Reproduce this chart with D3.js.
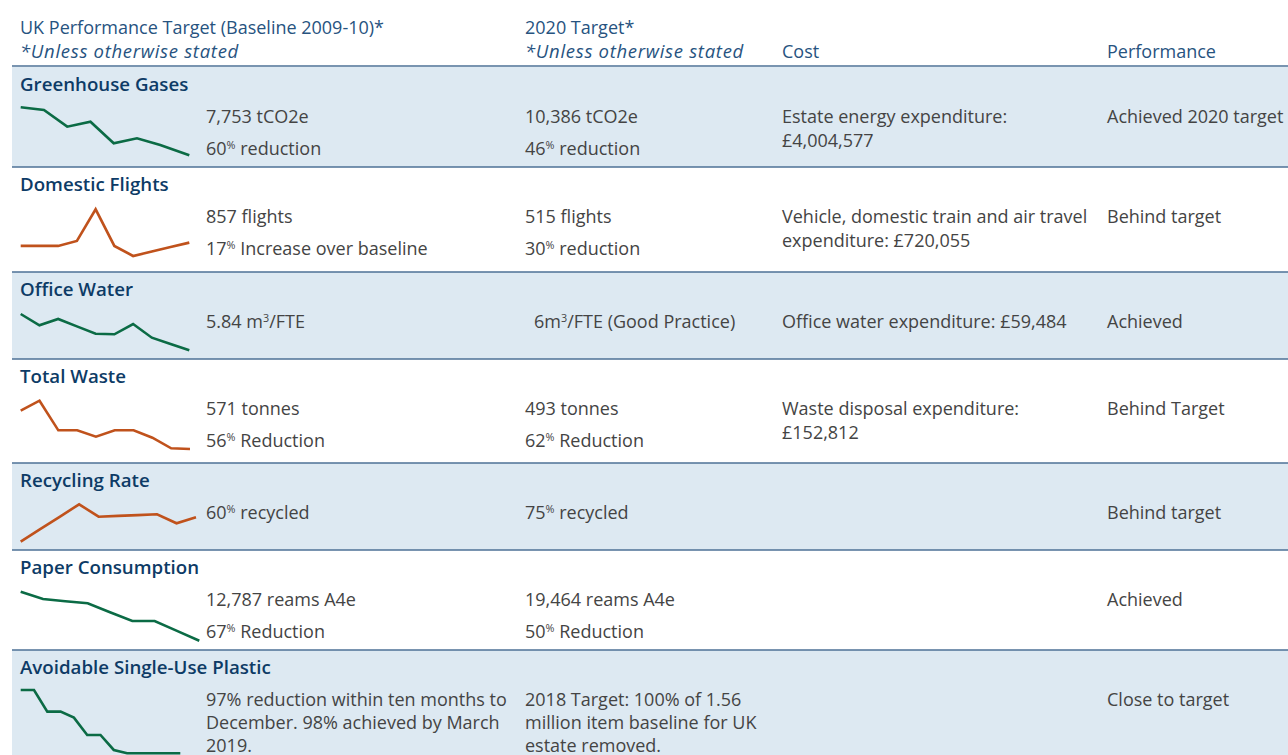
<!DOCTYPE html>
<html>
<head>
<meta charset="utf-8">
<script src="https://cdn.jsdelivr.net/npm/d3@7"></script>
<style>
  body { margin: 0; background: #fff; }
  svg text { font-family: "Open Sans", "Noto Sans", sans-serif; }
</style>
</head>
<body>
<svg id="chart"></svg>
<script>
// ---- table content ----
const rowTitles = ["Greenhouse Gases", "Domestic Flights", "Office Water", "Total Waste",
  "Recycling Rate", "Paper Consumption", "Avoidable Single-Use Plastic"];

// "^" marks the next character as superscript
const currentText = [
  ["7,753 tCO2e", "60^% reduction"],
  ["857 flights", "17^% Increase over baseline"],
  ["5.84 m^3/FTE"],
  ["571 tonnes", "56^% Reduction"],
  ["60^% recycled"],
  ["12,787 reams A4e", "67^% Reduction"],
  ["97% reduction within ten months to", "December. 98% achieved by March", "2019."]
];
const targetText = [
  ["10,386 tCO2e", "46^% reduction"],
  ["515 flights", "30^% reduction"],
  ["6m^3/FTE (Good Practice)"],
  ["493 tonnes", "62^% Reduction"],
  ["75^% recycled"],
  ["19,464 reams A4e", "50^% Reduction"],
  ["2018 Target: 100% of 1.56", "million item baseline for UK", "estate removed."]
];
const costText = [
  ["Estate energy expenditure:", "£4,004,577"],
  ["Vehicle, domestic train and air travel", "expenditure: £720,055"],
  ["Office water expenditure: £59,484"],
  ["Waste disposal expenditure:", "£152,812"],
  [], [], []
];
const performance = ["Achieved 2020 target", "Behind target", "Achieved", "Behind Target",
  "Behind target", "Achieved", "Close to target"];
const onTrack = [true, false, true, false, false, true, true];

// ---- sparkline series (index, baseline = 100, unless units noted) ----
const ghgValues = [100, 96.6, 75.8, 82, 55, 61.3, 52.9, 40];
const ghgPeriods = [0, 1, 2, 3, 4, 5, 6, 7.25];
const flightsValues = [100, 100, 100, 126, 289, 100, 48, 71, 94, 117];
const waterValues = [9.47, 8.34, 8.97, 8.23, 7.50, 7.44, 8.47, 7.10, 6.47, 5.84]; // m3/FTE
const wasteValues = [100, 114.6, 71.3, 71.3, 62, 71.3, 71.3, 60.5, 45, 44];
const recyclingValues = [35.6, 48.1, 60.5, 73, 60.6, 61.4, 62.2, 63, 54, 60]; // % recycled
const paperValues = [100, 90, 87, 84.1, 72, 59.9, 59.9, 46.5, 33];
const plasticValues = [100, 100, 66.8, 66.8, 57.6, 31.1, 31.1, 8.1, 3, 3, 3, 3, 3];

const sparkSeries = [ghgValues, flightsValues, waterValues, wasteValues,
  recyclingValues, paperValues, plasticValues];
const sparkPeriods = [ghgPeriods, null, null, null, null, null, null];

// ---- layout ----
const W = 1288, H = 755;
const rowTops = [67, 167, 272, 359, 463, 550, 650];
const rowBottomLast = 790;
const colX = {spark: 20.7, current: 206, target: 525, cost: 782, perf: 1107};
// sparkline extent per row: right end x, top/bottom offset from row top
const sparkLayout = [
  {xEnd: 189.3, top: 40.3, bottom: 88.3},
  {xEnd: 189.3, top: 42.3, bottom: 89},
  {xEnd: 189.3, top: 42, bottom: 78.3},
  {xEnd: 190, top: 41.7, bottom: 90},
  {xEnd: 196, top: 41.3, bottom: 78.7},
  {xEnd: 199.3, top: 41.7, bottom: 90.7},
  {xEnd: 180.3, top: 40, bottom: 103.3}
];

const colors = {
  shade: "#dde9f2",
  rule: "#4d7096",
  title: "#0d3b66",
  head: "#27537f",
  body: "#444444",
  good: "#0b6b45",
  bad: "#c0521c"
};

const svg = d3.select("#chart").attr("width", W).attr("height", H);
svg.append("rect").attr("width", W).attr("height", H).attr("fill", "#fff");

// row backgrounds
const rowBottoms = rowTops.slice(1).concat([rowBottomLast]);
svg.selectAll("rect.row")
  .data(rowTops)
  .join("rect")
  .attr("class", "row")
  .attr("x", 12)
  .attr("y", d => d)
  .attr("width", W - 12)
  .attr("height", (d, i) => rowBottoms[i] - d)
  .attr("fill", (d, i) => i % 2 === 0 ? colors.shade : "#fff");

// rules
const rules = [66].concat(rowTops.slice(1));
svg.selectAll("line.rule")
  .data(rules)
  .join("line")
  .attr("class", "rule")
  .attr("x1", 12).attr("x2", W)
  .attr("y1", d => d).attr("y2", d => d)
  .attr("stroke", colors.rule)
  .attr("stroke-width", 1.5);

// helper for text with superscripts
function writeLine(g, str, x, y, opts) {
  const t = g.append("text")
    .attr("x", x).attr("y", y)
    .attr("fill", opts.fill)
    .attr("font-size", opts.size)
    .attr("font-weight", opts.weight || 400)
    .attr("letter-spacing", opts.spacing || 0)
    .attr("font-style", opts.italic ? "italic" : "normal");
  const parts = str.split("^");
  t.append("tspan").text(parts[0]);
  parts.slice(1).forEach(p => {
    t.append("tspan").attr("font-size", opts.size * 0.6).attr("dy", -6.5).text(p[0]);
    t.append("tspan").attr("dy", 6.5).text(p.slice(1));
  });
  return t;
}

// header
const head = svg.append("g");
const hs = {fill: colors.head, size: 18};
const hi = {fill: colors.head, size: 18.5, italic: true, spacing: 0.7};
writeLine(head, "UK Performance Target (Baseline 2009-10)*", 20, 34, hs);
writeLine(head, "*Unless otherwise stated", 20, 58, hi);
writeLine(head, "2020 Target*", 525, 34, hs);
writeLine(head, "*Unless otherwise stated", 525, 58, hi);
writeLine(head, "Cost", colX.cost, 58, hs);
writeLine(head, "Performance", colX.perf, 58, hs);

// rows
const bs = {fill: colors.body, size: 18};
rowTops.forEach((top, i) => {
  const g = svg.append("g");
  writeLine(g, rowTitles[i], 20, top + 24, {fill: colors.title, size: 18.7, weight: 600});

  const gap = currentText[i].length > 2 ? 23 : 32;
  currentText[i].forEach((s, k) => writeLine(g, s, colX.current, top + 56 + k * gap, bs));
  const tx = i === 2 ? colX.target + 9 : colX.target;
  targetText[i].forEach((s, k) => writeLine(g, s, tx, top + 56 + k * gap, bs));
  costText[i].forEach((s, k) => writeLine(g, s, colX.cost, top + 56 + k * 24, bs));
  writeLine(g, performance[i], colX.perf, top + 56, bs);

  // sparkline
  const vals = sparkSeries[i];
  const periods = sparkPeriods[i] || vals.map((v, j) => j);
  const lay = sparkLayout[i];
  const x = d3.scaleLinear().domain([0, d3.max(periods)]).range([colX.spark, lay.xEnd]);
  const y = d3.scaleLinear().domain(d3.extent(vals)).range([top + lay.bottom, top + lay.top]);
  const line = d3.line().x((d, j) => x(periods[j])).y(d => y(d));
  g.append("path")
    .datum(vals)
    .attr("d", line)
    .attr("fill", "none")
    .attr("stroke", onTrack[i] ? colors.good : colors.bad)
    .attr("stroke-width", 2.6);
});
</script>
</body>
</html>
